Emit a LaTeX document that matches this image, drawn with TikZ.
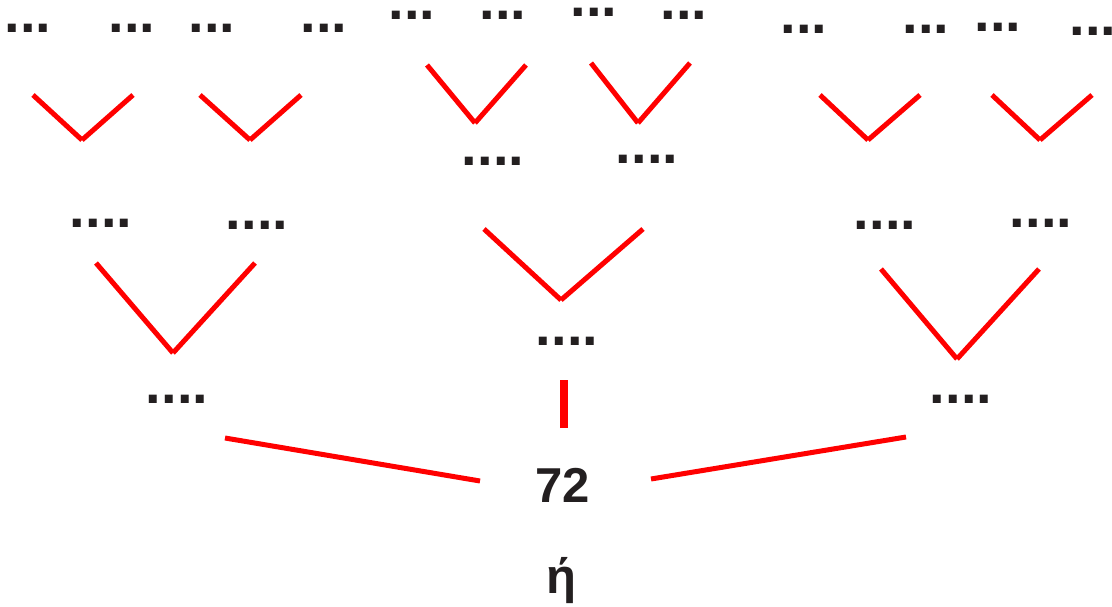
\documentclass[tikz,border=0pt]{standalone}
\usepackage{fontspec}
\setmainfont{Liberation Sans}
\usetikzlibrary{positioning}
\definecolor{FTRed}{HTML}{FF0000}
\definecolor{FTInk}{HTML}{231F20}
\tikzset{
  branch/.style={FTRed,line width=5pt},
  stem/.style={FTRed,line width=8pt},
  blank/.style={text=FTInk,inner sep=0pt,font=\fontsize{56}{60}\selectfont\bfseries},
  number/.style={text=FTInk,inner sep=0pt,font=\fontsize{49}{56}\selectfont\bfseries},
}

\begin{document}
\begin{tikzpicture}[x=1pt,y=-1pt]
    \useasboundingbox (0,0) rectangle (1112,607);
    % the number and its answer line
    \node[number] (root) at (563,485) {72};
    \node[number] (eta) at (561,581) {ή};

    % first split: three factors
    \node[blank] (fL) at (177,399) {....};
    \node[blank] (fM) at (567,341) {....};
    \node[blank] (fR) at (961,399) {....};
    \coordinate (rootL) at (480,481); \coordinate (fLend) at (225,438);
    \coordinate (rootR) at (651,479); \coordinate (fRend) at (906,437);
    \coordinate (rootM) at (564,428); \coordinate (fMend) at (564,380);
    \draw[branch] (rootL) -- (fLend);
    \draw[branch] (rootR) -- (fRend);
    \draw[stem] (rootM) -- (fMend);

    % second split
    \node[blank] (sL1) at (101,223) {....};
    \node[blank] (sL2) at (257,225) {....};
    \node[blank] (sM1) at (493,161) {....};
    \node[blank] (sM2) at (647,159) {....};
    \node[blank] (sR1) at (885,225) {....};
    \node[blank] (sR2) at (1041,223) {....};
    \foreach \n/\a/\b/\c/\d/\e/\f in {L/96/263/173/353/255/263,
                                      M/484/229/561/300/643/229,
                                      R/881/269/957/359/1039/269}{
      \coordinate (v\n a) at (\a,\b);
      \coordinate (v\n b) at (\c,\d);
      \coordinate (v\n c) at (\e,\f);
      \draw[branch] (v\n a) -- (v\n b);
      \draw[branch] (v\n b) -- (v\n c);
    }

    % third split: the leaves
    \foreach \x/\y [count=\i] in {28/28,132/28,212/28,324/28,412/15,503/15,
                                  594/12,684/15,804/29,926/29,998/27,1093/31}
      \node[blank] (leaf\i) at (\x,\y) {...};
    \foreach \n/\a/\b/\c/\d/\e/\f in {1/33/95/82/140/133/95,
                                      2/200/95/250/140/301/95,
                                      3/427/65/475/123/526/65,
                                      4/591/63/638/123/690/63,
                                      5/820/95/868/140/920/95,
                                      6/992/95/1040/140/1092/95}{
      \coordinate (w\n a) at (\a,\b);
      \coordinate (w\n b) at (\c,\d);
      \coordinate (w\n c) at (\e,\f);
      \draw[branch] (w\n a) -- (w\n b);
      \draw[branch] (w\n b) -- (w\n c);
    }
\end{tikzpicture}
\end{document}
